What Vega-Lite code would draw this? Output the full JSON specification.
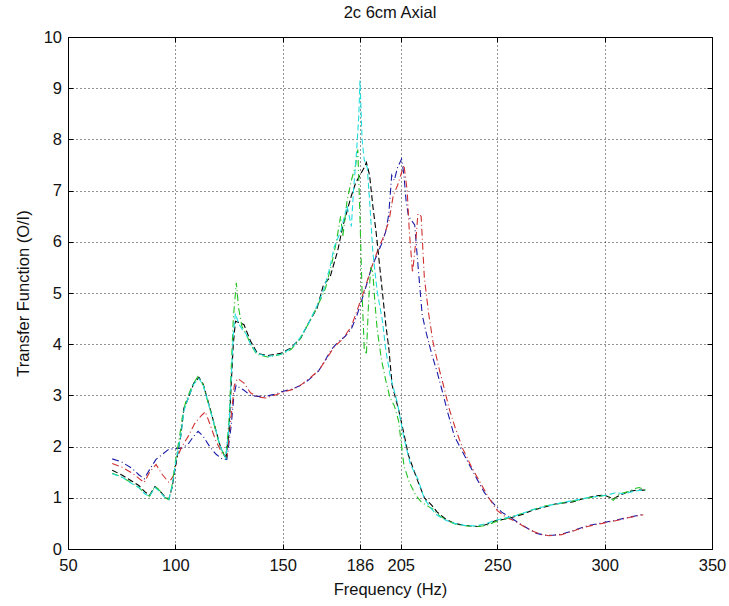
{
  "$schema": "https://vega.github.io/schema/vega-lite/v6.json",
  "width": 644,
  "height": 512,
  "autosize": {"type": "none"},
  "padding": {"left": 68, "top": 37, "right": 17, "bottom": 57},
  "background": "white",
  "title": {"text": "2c 6cm Axial", "fontSize": 16.5, "fontWeight": "normal", "font": "Liberation Sans", "color": "#111", "offset": 8},
  "config": {
    "view": {"stroke": "black", "strokeWidth": 1},
    "axis": {"labelFont": "Liberation Sans", "labelFontSize": 16.5, "labelColor": "#111", "titleFont": "Liberation Sans", "titleFontSize": 16.5, "titleFontWeight": "normal", "titleColor": "#111", "domain": false, "tickColor": "black", "gridColor": "black", "gridDash": [1, 3], "gridOpacity": 0.85}
  },
  "data": {"values": [
    {"s":"b","f":70.6,"v":1.76},{"s":"b","f":75,"v":1.7},{"s":"b","f":80,"v":1.57},{"s":"b","f":83,"v":1.45},{"s":"b","f":85.5,"v":1.37},{"s":"b","f":88,"v":1.55},{"s":"b","f":91,"v":1.75},{"s":"b","f":94,"v":1.85},{"s":"b","f":97,"v":1.95},{"s":"b","f":100,"v":1.96},{"s":"b","f":103,"v":1.97},{"s":"b","f":106,"v":2.05},{"s":"b","f":108.5,"v":2.2},{"s":"b","f":110.6,"v":2.3},{"s":"b","f":113,"v":2.2},{"s":"b","f":116,"v":2.0},{"s":"b","f":119,"v":1.85},{"s":"b","f":122,"v":1.75},{"s":"b","f":124,"v":1.75},{"s":"b","f":126,"v":2.4},{"s":"b","f":127.3,"v":3.0},{"s":"b","f":128.3,"v":3.2},{"s":"b","f":130,"v":3.15},{"s":"b","f":132,"v":3.1},{"s":"b","f":135,"v":3.0},{"s":"b","f":138.5,"v":2.98},{"s":"b","f":142,"v":2.98},{"s":"b","f":146,"v":3.02},{"s":"b","f":149.4,"v":3.07},{"s":"b","f":154,"v":3.12},{"s":"b","f":158.7,"v":3.2},{"s":"b","f":162,"v":3.3},{"s":"b","f":166.6,"v":3.47},{"s":"b","f":170,"v":3.7},{"s":"b","f":172.7,"v":3.9},{"s":"b","f":176,"v":4.05},{"s":"b","f":179,"v":4.15},{"s":"b","f":182,"v":4.3},{"s":"b","f":184.5,"v":4.55},{"s":"b","f":186.7,"v":4.84},{"s":"b","f":189,"v":5.15},{"s":"b","f":191.4,"v":5.5},{"s":"b","f":194,"v":5.75},{"s":"b","f":196,"v":5.95},{"s":"b","f":198,"v":6.2},{"s":"b","f":199.4,"v":6.53},{"s":"b","f":200.8,"v":7.3},{"s":"b","f":202,"v":7.2},{"s":"b","f":203.5,"v":7.45},{"s":"b","f":205.4,"v":7.62},{"s":"b","f":206.5,"v":7.3},{"s":"b","f":207.5,"v":6.8},{"s":"b","f":208.6,"v":6.5},{"s":"b","f":211.5,"v":6.33},{"s":"b","f":213,"v":5.56},{"s":"b","f":215,"v":4.57},{"s":"b","f":217,"v":4.2},{"s":"b","f":219.5,"v":3.8},{"s":"b","f":222,"v":3.45},{"s":"b","f":224,"v":3.14},{"s":"b","f":227,"v":2.65},{"s":"b","f":230,"v":2.2},{"s":"b","f":235,"v":1.8},{"s":"b","f":239.7,"v":1.43},{"s":"b","f":244,"v":1.1},{"s":"b","f":247.5,"v":0.92},{"s":"b","f":252,"v":0.72},{"s":"b","f":257,"v":0.59},{"s":"b","f":261,"v":0.48},{"s":"b","f":264.6,"v":0.39},{"s":"b","f":268,"v":0.31},{"s":"b","f":272,"v":0.27},{"s":"b","f":276,"v":0.27},{"s":"b","f":280,"v":0.29},{"s":"b","f":286,"v":0.37},{"s":"b","f":292.5,"v":0.46},{"s":"b","f":300,"v":0.52},{"s":"b","f":306,"v":0.57},{"s":"b","f":311.4,"v":0.62},{"s":"b","f":318,"v":0.68},
    {"s":"r","f":70.6,"v":1.67},{"s":"r","f":75,"v":1.6},{"s":"r","f":80,"v":1.48},{"s":"r","f":83,"v":1.38},{"s":"r","f":85.5,"v":1.3},{"s":"r","f":88,"v":1.5},{"s":"r","f":91,"v":1.65},{"s":"r","f":94,"v":1.45},{"s":"r","f":97,"v":1.3},{"s":"r","f":99,"v":1.42},{"s":"r","f":101,"v":1.8},{"s":"r","f":103,"v":2.0},{"s":"r","f":106,"v":2.2},{"s":"r","f":109,"v":2.45},{"s":"r","f":112,"v":2.6},{"s":"r","f":114,"v":2.68},{"s":"r","f":116,"v":2.45},{"s":"r","f":119,"v":2.1},{"s":"r","f":122,"v":1.85},{"s":"r","f":124,"v":1.8},{"s":"r","f":126,"v":2.6},{"s":"r","f":127.5,"v":3.2},{"s":"r","f":129,"v":3.33},{"s":"r","f":132,"v":3.24},{"s":"r","f":135,"v":3.05},{"s":"r","f":138.5,"v":2.97},{"s":"r","f":142,"v":2.95},{"s":"r","f":146,"v":3.0},{"s":"r","f":150,"v":3.06},{"s":"r","f":155,"v":3.12},{"s":"r","f":159,"v":3.22},{"s":"r","f":163,"v":3.35},{"s":"r","f":167,"v":3.5},{"s":"r","f":171,"v":3.75},{"s":"r","f":174,"v":3.95},{"s":"r","f":178,"v":4.1},{"s":"r","f":182,"v":4.35},{"s":"r","f":185,"v":4.7},{"s":"r","f":188,"v":5.05},{"s":"r","f":191,"v":5.45},{"s":"r","f":194,"v":5.8},{"s":"r","f":197,"v":6.1},{"s":"r","f":199.5,"v":6.4},{"s":"r","f":201.5,"v":6.9},{"s":"r","f":203.5,"v":7.1},{"s":"r","f":205,"v":7.3},{"s":"r","f":206.5,"v":7.5},{"s":"r","f":208,"v":7.0},{"s":"r","f":209,"v":6.2},{"s":"r","f":210.5,"v":5.4},{"s":"r","f":212,"v":6.0},{"s":"r","f":213,"v":6.55},{"s":"r","f":214.5,"v":6.5},{"s":"r","f":216,"v":5.3},{"s":"r","f":218,"v":4.6},{"s":"r","f":220,"v":4.05},{"s":"r","f":223,"v":3.5},{"s":"r","f":225.5,"v":3.1},{"s":"r","f":227.5,"v":2.75},{"s":"r","f":230.5,"v":2.35},{"s":"r","f":234,"v":1.95},{"s":"r","f":238,"v":1.6},{"s":"r","f":242,"v":1.3},{"s":"r","f":246,"v":1.0},{"s":"r","f":250,"v":0.75},{"s":"r","f":254,"v":0.62},{"s":"r","f":258,"v":0.55},{"s":"r","f":262,"v":0.45},{"s":"r","f":266,"v":0.36},{"s":"r","f":270,"v":0.29},{"s":"r","f":274,"v":0.26},{"s":"r","f":280,"v":0.28},{"s":"r","f":286,"v":0.36},{"s":"r","f":292,"v":0.44},{"s":"r","f":300,"v":0.51},{"s":"r","f":306,"v":0.56},{"s":"r","f":312,"v":0.62},{"s":"r","f":318,"v":0.67},
    {"s":"k","f":70.6,"v":1.54},{"s":"k","f":75.3,"v":1.44},{"s":"k","f":80,"v":1.32},{"s":"k","f":83,"v":1.24},{"s":"k","f":86,"v":1.11},{"s":"k","f":88,"v":1.05},{"s":"k","f":90.5,"v":1.22},{"s":"k","f":92.5,"v":1.15},{"s":"k","f":95.5,"v":1.0},{"s":"k","f":97,"v":0.98},{"s":"k","f":98.5,"v":1.2},{"s":"k","f":100,"v":1.6},{"s":"k","f":102.5,"v":2.2},{"s":"k","f":104,"v":2.75},{"s":"k","f":106,"v":2.94},{"s":"k","f":108.6,"v":3.24},{"s":"k","f":111,"v":3.35},{"s":"k","f":113,"v":3.22},{"s":"k","f":115,"v":2.92},{"s":"k","f":117,"v":2.62},{"s":"k","f":119,"v":2.3},{"s":"k","f":121,"v":2.0},{"s":"k","f":123.5,"v":1.76},{"s":"k","f":125,"v":2.3},{"s":"k","f":126,"v":3.2},{"s":"k","f":127,"v":4.0},{"s":"k","f":128,"v":4.45},{"s":"k","f":130,"v":4.42},{"s":"k","f":132,"v":4.38},{"s":"k","f":135,"v":4.06},{"s":"k","f":138.3,"v":3.82},{"s":"k","f":143,"v":3.78},{"s":"k","f":149,"v":3.82},{"s":"k","f":153.7,"v":3.92},{"s":"k","f":158.4,"v":4.12},{"s":"k","f":161.6,"v":4.38},{"s":"k","f":166,"v":4.7},{"s":"k","f":169,"v":5.16},{"s":"k","f":172,"v":5.3},{"s":"k","f":175.6,"v":5.82},{"s":"k","f":178,"v":6.3},{"s":"k","f":180,"v":6.6},{"s":"k","f":182,"v":6.9},{"s":"k","f":184,"v":7.15},{"s":"k","f":186,"v":7.3},{"s":"k","f":188,"v":7.45},{"s":"k","f":189,"v":7.55},{"s":"k","f":190.5,"v":7.3},{"s":"k","f":192,"v":6.7},{"s":"k","f":193.5,"v":6.2},{"s":"k","f":196,"v":5.2},{"s":"k","f":198,"v":4.4},{"s":"k","f":199.5,"v":3.9},{"s":"k","f":201,"v":3.2},{"s":"k","f":204,"v":2.72},{"s":"k","f":206.5,"v":2.25},{"s":"k","f":208.6,"v":1.83},{"s":"k","f":211,"v":1.55},{"s":"k","f":213,"v":1.32},{"s":"k","f":216,"v":1.0},{"s":"k","f":219.5,"v":0.85},{"s":"k","f":222,"v":0.72},{"s":"k","f":226,"v":0.58},{"s":"k","f":230,"v":0.5},{"s":"k","f":235,"v":0.46},{"s":"k","f":241,"v":0.44},{"s":"k","f":245,"v":0.48},{"s":"k","f":249,"v":0.55},{"s":"k","f":253,"v":0.58},{"s":"k","f":257,"v":0.62},{"s":"k","f":262,"v":0.68},{"s":"k","f":266,"v":0.75},{"s":"k","f":272,"v":0.82},{"s":"k","f":277,"v":0.88},{"s":"k","f":281,"v":0.9},{"s":"k","f":285,"v":0.92},{"s":"k","f":290,"v":0.98},{"s":"k","f":296,"v":1.04},{"s":"k","f":300,"v":1.05},{"s":"k","f":304,"v":0.98},{"s":"k","f":307,"v":1.05},{"s":"k","f":311,"v":1.12},{"s":"k","f":315,"v":1.15},{"s":"k","f":319,"v":1.15},
    {"s":"g","f":70.6,"v":1.48},{"s":"g","f":75.3,"v":1.4},{"s":"g","f":80,"v":1.28},{"s":"g","f":83,"v":1.2},{"s":"g","f":86,"v":1.08},{"s":"g","f":88,"v":1.03},{"s":"g","f":90.5,"v":1.22},{"s":"g","f":92.5,"v":1.15},{"s":"g","f":95.5,"v":1.0},{"s":"g","f":97,"v":0.96},{"s":"g","f":98.5,"v":1.25},{"s":"g","f":100,"v":1.7},{"s":"g","f":102,"v":2.2},{"s":"g","f":103.5,"v":2.65},{"s":"g","f":105,"v":2.9},{"s":"g","f":108,"v":3.2},{"s":"g","f":110.5,"v":3.37},{"s":"g","f":113,"v":3.2},{"s":"g","f":115,"v":2.9},{"s":"g","f":117,"v":2.6},{"s":"g","f":119,"v":2.28},{"s":"g","f":121,"v":1.98},{"s":"g","f":123.5,"v":1.78},{"s":"g","f":125,"v":2.5},{"s":"g","f":126,"v":3.5},{"s":"g","f":127,"v":4.5},{"s":"g","f":128.4,"v":5.2},{"s":"g","f":129.5,"v":4.7},{"s":"g","f":131,"v":4.35},{"s":"g","f":133,"v":4.2},{"s":"g","f":135,"v":4.0},{"s":"g","f":138,"v":3.8},{"s":"g","f":143,"v":3.75},{"s":"g","f":149,"v":3.8},{"s":"g","f":154,"v":3.9},{"s":"g","f":158,"v":4.1},{"s":"g","f":162,"v":4.4},{"s":"g","f":165,"v":4.65},{"s":"g","f":168,"v":4.9},{"s":"g","f":170,"v":5.1},{"s":"g","f":173,"v":5.6},{"s":"g","f":175,"v":6.0},{"s":"g","f":177,"v":6.5},{"s":"g","f":178,"v":6.1},{"s":"g","f":180,"v":6.8},{"s":"g","f":182,"v":7.2},{"s":"g","f":184,"v":7.5},{"s":"g","f":185,"v":7.8},{"s":"g","f":186,"v":6.5},{"s":"g","f":187,"v":5.0},{"s":"g","f":188,"v":3.9},{"s":"g","f":189,"v":3.8},{"s":"g","f":190,"v":4.8},{"s":"g","f":191,"v":5.5},{"s":"g","f":192,"v":5.4},{"s":"g","f":193,"v":4.8},{"s":"g","f":194,"v":4.3},{"s":"g","f":196,"v":3.7},{"s":"g","f":198,"v":3.3},{"s":"g","f":200,"v":2.95},{"s":"g","f":202,"v":2.8},{"s":"g","f":204,"v":2.5},{"s":"g","f":206.5,"v":1.63},{"s":"g","f":209,"v":1.3},{"s":"g","f":212,"v":1.05},{"s":"g","f":214.5,"v":0.92},{"s":"g","f":217,"v":0.85},{"s":"g","f":220,"v":0.78},{"s":"g","f":223,"v":0.65},{"s":"g","f":227,"v":0.55},{"s":"g","f":231,"v":0.48},{"s":"g","f":236,"v":0.45},{"s":"g","f":241,"v":0.44},{"s":"g","f":245,"v":0.46},{"s":"g","f":249,"v":0.53},{"s":"g","f":253,"v":0.58},{"s":"g","f":257,"v":0.64},{"s":"g","f":262,"v":0.7},{"s":"g","f":266,"v":0.76},{"s":"g","f":272,"v":0.84},{"s":"g","f":277,"v":0.87},{"s":"g","f":282,"v":0.92},{"s":"g","f":287,"v":0.95},{"s":"g","f":292,"v":1.0},{"s":"g","f":297,"v":1.02},{"s":"g","f":301,"v":1.06},{"s":"g","f":304,"v":0.95},{"s":"g","f":307,"v":1.08},{"s":"g","f":311,"v":1.12},{"s":"g","f":314,"v":1.18},{"s":"g","f":316,"v":1.2},{"s":"g","f":319,"v":1.16},
    {"s":"c","f":70.6,"v":1.47},{"s":"c","f":75.3,"v":1.4},{"s":"c","f":80,"v":1.27},{"s":"c","f":83,"v":1.2},{"s":"c","f":86,"v":1.07},{"s":"c","f":88,"v":1.03},{"s":"c","f":90.5,"v":1.2},{"s":"c","f":92.5,"v":1.13},{"s":"c","f":95.5,"v":0.99},{"s":"c","f":97,"v":0.97},{"s":"c","f":98.5,"v":1.22},{"s":"c","f":100,"v":1.65},{"s":"c","f":102.5,"v":2.2},{"s":"c","f":104,"v":2.7},{"s":"c","f":106,"v":2.95},{"s":"c","f":108.6,"v":3.22},{"s":"c","f":111,"v":3.33},{"s":"c","f":113,"v":3.2},{"s":"c","f":115,"v":2.9},{"s":"c","f":117,"v":2.6},{"s":"c","f":119,"v":2.3},{"s":"c","f":121,"v":2.0},{"s":"c","f":123.5,"v":1.77},{"s":"c","f":125,"v":2.4},{"s":"c","f":126,"v":3.3},{"s":"c","f":127,"v":4.2},{"s":"c","f":128,"v":4.6},{"s":"c","f":129.5,"v":4.4},{"s":"c","f":131,"v":4.3},{"s":"c","f":133,"v":4.2},{"s":"c","f":135,"v":4.0},{"s":"c","f":138,"v":3.82},{"s":"c","f":143,"v":3.76},{"s":"c","f":149,"v":3.8},{"s":"c","f":154,"v":3.92},{"s":"c","f":158,"v":4.12},{"s":"c","f":162,"v":4.4},{"s":"c","f":166,"v":4.75},{"s":"c","f":169,"v":5.05},{"s":"c","f":172,"v":5.5},{"s":"c","f":174,"v":5.9},{"s":"c","f":177,"v":6.2},{"s":"c","f":180,"v":6.7},{"s":"c","f":182,"v":6.3},{"s":"c","f":183,"v":7.0},{"s":"c","f":184.5,"v":7.8},{"s":"c","f":185.5,"v":8.5},{"s":"c","f":186,"v":9.15},{"s":"c","f":187,"v":8.0},{"s":"c","f":188,"v":7.6},{"s":"c","f":189.4,"v":7.45},{"s":"c","f":190.5,"v":6.8},{"s":"c","f":192,"v":5.8},{"s":"c","f":194,"v":5.04},{"s":"c","f":196.5,"v":4.45},{"s":"c","f":198,"v":3.9},{"s":"c","f":200,"v":3.4},{"s":"c","f":203.3,"v":2.88},{"s":"c","f":206.5,"v":2.16},{"s":"c","f":209.6,"v":1.64},{"s":"c","f":213,"v":1.37},{"s":"c","f":216,"v":0.98},{"s":"c","f":219,"v":0.8},{"s":"c","f":222,"v":0.66},{"s":"c","f":226,"v":0.56},{"s":"c","f":230,"v":0.5},{"s":"c","f":235,"v":0.46},{"s":"c","f":240,"v":0.45},{"s":"c","f":245,"v":0.5},{"s":"c","f":249,"v":0.56},{"s":"c","f":253,"v":0.6},{"s":"c","f":257,"v":0.63},{"s":"c","f":262,"v":0.7},{"s":"c","f":266,"v":0.76},{"s":"c","f":272,"v":0.83},{"s":"c","f":277,"v":0.88},{"s":"c","f":282,"v":0.92},{"s":"c","f":287,"v":0.96},{"s":"c","f":292,"v":1.0},{"s":"c","f":297,"v":1.03},{"s":"c","f":301,"v":1.05},{"s":"c","f":305,"v":1.1},{"s":"c","f":309,"v":1.08},{"s":"c","f":313,"v":1.12},{"s":"c","f":317,"v":1.15},{"s":"c","f":319,"v":1.14}
  ]},
  "resolve": {"axis": {"x": "independent", "y": "independent"}},
  "layer": [
    {
      "mark": {"type": "line", "strokeWidth": 1.1},
      "encoding": {
        "x": {"field": "f", "type": "quantitative", "scale": {"domain": [50, 350], "nice": false, "zero": false},
              "axis": {"title": "Frequency (Hz)", "values": [50, 100, 150, 186, 205, 250, 300, 350], "grid": true, "tickSize": -5, "labelPadding": 13, "titlePadding": 8, "labelFlush": false, "labelOverlap": false}},
        "y": {"field": "v", "type": "quantitative", "scale": {"domain": [0, 10], "nice": false},
              "axis": {"title": "Transfer Function (O/I)", "values": [0,1,2,3,4,5,6,7,8,9,10], "grid": true, "tickSize": -5, "labelPadding": 11.5, "titlePadding": 12, "labelFlush": false}},
        "color": {"field": "s", "type": "nominal", "legend": null,
                  "scale": {"domain": ["b", "r", "k", "g", "c"], "range": ["#1a1aa8", "#d03030", "#000000", "#22c022", "#22dddd"]}},
        "strokeDash": {"field": "s", "type": "nominal", "legend": null,
                  "scale": {"domain": ["b", "r", "k", "g", "c"], "range": [[7, 3, 1, 3], [7, 3, 1, 3], [6, 3], [7, 3, 1, 3], [6, 3]]}}
      }
    },
    {
      "mark": {"type": "point", "opacity": 0},
      "encoding": {
        "x": {"field": "f", "type": "quantitative", "axis": {"orient": "top", "title": null, "labels": false, "grid": false, "tickSize": -5, "values": [50, 100, 150, 186, 205, 250, 300, 350]}},
        "y": {"field": "v", "type": "quantitative", "axis": {"orient": "right", "title": null, "labels": false, "grid": false, "tickSize": -5, "values": [0,1,2,3,4,5,6,7,8,9,10]}}
      }
    }
  ]
}
